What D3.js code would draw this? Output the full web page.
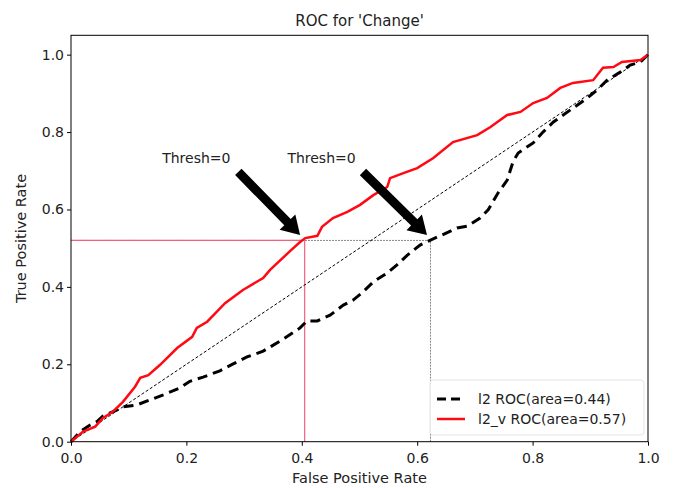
<!DOCTYPE html>
<html>
<head>
<meta charset="utf-8">
<script src="https://cdn.jsdelivr.net/npm/d3@7"></script>
<style>
  body { margin: 0; background: #fff; }
  text { font-family: "DejaVu Sans", sans-serif; fill: #222; }
</style>
</head>
<body>
<script>
// l2 ROC curve (black dashed)
var l2Fpr = [0, 0.016, 0.033, 0.045, 0.055, 0.080, 0.090, 0.114, 0.137, 0.160, 0.189, 0.206, 0.229, 0.258, 0.281, 0.305, 0.333, 0.368, 0.397, 0.409, 0.427, 0.449, 0.472, 0.489, 0.506, 0.524, 0.548, 0.565, 0.583, 0.605, 0.623, 0.640, 0.669, 0.687, 0.709, 0.723, 0.739, 0.756, 0.766, 0.775, 0.801, 0.818, 0.836, 0.853, 0.870, 0.895, 0.912, 0.929, 0.952, 0.969, 0.987, 1]
var l2Tpr = [0, 0.026, 0.043, 0.052, 0.066, 0.082, 0.090, 0.095, 0.108, 0.121, 0.139, 0.156, 0.167, 0.183, 0.201, 0.219, 0.234, 0.265, 0.294, 0.312, 0.312, 0.327, 0.353, 0.366, 0.387, 0.413, 0.436, 0.457, 0.482, 0.508, 0.521, 0.532, 0.552, 0.557, 0.578, 0.599, 0.640, 0.676, 0.723, 0.746, 0.772, 0.800, 0.826, 0.844, 0.862, 0.888, 0.909, 0.934, 0.955, 0.973, 0.981, 1]

// l2_v ROC curve (red)
var l2vFpr = [0, 0.021, 0.042, 0.055, 0.073, 0.090, 0.111, 0.120, 0.134, 0.154, 0.184, 0.210, 0.218, 0.236, 0.267, 0.298, 0.333, 0.345, 0.380, 0.397, 0.406, 0.427, 0.435, 0.454, 0.479, 0.501, 0.524, 0.548, 0.553, 0.576, 0.600, 0.628, 0.662, 0.704, 0.727, 0.756, 0.779, 0.801, 0.825, 0.848, 0.870, 0.905, 0.922, 0.940, 0.955, 0.987, 1]
var l2vTpr = [0, 0.026, 0.039, 0.061, 0.078, 0.103, 0.142, 0.165, 0.172, 0.198, 0.242, 0.271, 0.294, 0.310, 0.358, 0.392, 0.423, 0.444, 0.493, 0.516, 0.526, 0.532, 0.555, 0.578, 0.594, 0.612, 0.637, 0.658, 0.681, 0.694, 0.707, 0.733, 0.774, 0.792, 0.813, 0.844, 0.852, 0.875, 0.888, 0.914, 0.927, 0.934, 0.966, 0.968, 0.981, 0.986, 1]

var ticks = [0, 0.2, 0.4, 0.6, 0.8, 1.0]
var labels = ["l2 ROC(area=0.44)", "l2_v ROC(area=0.57)"]

// threshold points marked on each curve
var threshX = [0.405, 0.623]
var threshY = 0.52

var svg = d3.select("body")
  .append("svg")
  .attr("width", 674)
  .attr("height", 488)

var xScale = d3.scaleLinear()
  .domain([0, 1])
  .range([71, 648])

var yScale = d3.scaleLinear()
  .domain([0, 1.05])
  .range([441.7, 35.3])

// reference lines at threshold
svg.append("line")
  .attr("x1", xScale(0)).attr("x2", xScale(threshX[1]))
  .attr("y1", yScale(threshY)).attr("y2", yScale(threshY))
  .attr("stroke", "#888").attr("stroke-width", 1).attr("stroke-dasharray", "2,1")
svg.append("line")
  .attr("x1", xScale(threshX[1])).attr("x2", xScale(threshX[1]))
  .attr("y1", yScale(0)).attr("y2", yScale(threshY))
  .attr("stroke", "#888").attr("stroke-width", 1).attr("stroke-dasharray", "2,1")
svg.append("line")
  .attr("x1", xScale(0)).attr("x2", xScale(threshX[0]))
  .attr("y1", yScale(threshY)).attr("y2", yScale(threshY))
  .attr("stroke", "#f06080").attr("stroke-width", 1.2)
svg.append("line")
  .attr("x1", xScale(threshX[0])).attr("x2", xScale(threshX[0]))
  .attr("y1", yScale(0)).attr("y2", yScale(threshY))
  .attr("stroke", "#f06080").attr("stroke-width", 1.2)

// diagonal
svg.append("line")
  .attr("x1", xScale(0)).attr("y1", yScale(0))
  .attr("x2", xScale(1)).attr("y2", yScale(1))
  .attr("stroke", "#000").attr("stroke-width", 1).attr("stroke-dasharray", "3,2")

var line = d3.line()
  .x(function(d){ return xScale(d[0]) })
  .y(function(d){ return yScale(d[1]) })

svg.append("path")
  .datum(d3.zip(l2Fpr, l2Tpr))
  .attr("d", line)
  .attr("fill", "none")
  .attr("stroke", "#000")
  .attr("stroke-width", 3)
  .attr("stroke-dasharray", "10,6")

svg.append("path")
  .datum(d3.zip(l2vFpr, l2vTpr))
  .attr("d", line)
  .attr("fill", "none")
  .attr("stroke", "#ff0a14")
  .attr("stroke-width", 2.5)

// annotations: arrows + text
var notes = [
  {tx: 0.158, ty: 0.72, x0: 0.290, y0: 0.697, x1: 0.397, y1: 0.534},
  {tx: 0.375, ty: 0.72, x0: 0.506, y0: 0.697, x1: 0.617, y1: 0.534}
]
notes.forEach(function(n){
  var ax = xScale(n.x0), ay = yScale(n.y0), bx = xScale(n.x1), by = yScale(n.y1)
  var dx = bx - ax, dy = by - ay, len = Math.sqrt(dx*dx + dy*dy)
  var ux = dx/len, uy = dy/len, px = -uy, py = ux
  var sw = 4.5, hw = 11, hl = 18
  var hx = bx - ux*hl, hy = by - uy*hl
  var pts = [
    [ax + px*sw, ay + py*sw],
    [hx + px*sw, hy + py*sw],
    [hx + px*hw, hy + py*hw],
    [bx, by],
    [hx - px*hw, hy - py*hw],
    [hx - px*sw, hy - py*sw],
    [ax - px*sw, ay - py*sw]
  ]
  svg.append("polygon")
    .attr("points", pts.map(function(p){ return p.join(",") }).join(" "))
    .attr("fill", "#000")
  svg.append("text").text("Thresh=0")
    .attr("x", xScale(n.tx)).attr("y", yScale(n.ty))
    .style("font-size", "14px")
})

// frame
svg.append("rect")
  .attr("x", 71).attr("y", 35.3)
  .attr("width", 577).attr("height", 406.4)
  .attr("fill", "none").attr("stroke", "#000").attr("stroke-width", 1)

var xAxis = d3.axisBottom(xScale).tickValues(ticks).tickFormat(d3.format(".1f")).tickSize(4).tickSizeOuter(0)
var yAxis = d3.axisLeft(yScale).tickValues(ticks).tickFormat(d3.format(".1f")).tickSize(4).tickSizeOuter(0)

var gx = svg.append("g").attr("transform", "translate(0,441.7)").call(xAxis)
var gy = svg.append("g").attr("transform", "translate(71,0)").call(yAxis)
gx.select(".domain").remove()
gy.select(".domain").remove()
svg.selectAll(".tick text").style("font-size", "14px").style("font-family", "DejaVu Sans").attr("fill", "#222")
gx.selectAll(".tick text").attr("dy", "1.0em")

svg.append("text").text("ROC for 'Change'")
  .attr("x", 359.5).attr("y", 26)
  .attr("text-anchor", "middle").style("font-size", "15px")

svg.append("text").text("False Positive Rate")
  .attr("x", 359.5).attr("y", 483)
  .attr("text-anchor", "middle").style("font-size", "14.5px")

svg.append("text").text("True Positive Rate")
  .attr("transform", "translate(26,238.5) rotate(-90)")
  .attr("text-anchor", "middle").style("font-size", "14.5px")

// legend
var lg = svg.append("g").attr("transform", "translate(430,380)")
lg.append("rect")
  .attr("x", 0).attr("y", 0).attr("width", 214).attr("height", 55)
  .attr("rx", 3).attr("fill", "#fff").attr("fill-opacity", 0.8)
  .attr("stroke", "#e4e4e4")
var styles = [
  {stroke: "#000", w: 3, dash: "9,5"},
  {stroke: "#ff0a14", w: 2.5, dash: null}
]
labels.forEach(function(t, i){
  var y = 19 + i*20
  lg.append("line")
    .attr("x1", 7).attr("x2", 35).attr("y1", y).attr("y2", y)
    .attr("stroke", styles[i].stroke).attr("stroke-width", styles[i].w)
    .attr("stroke-dasharray", styles[i].dash)
  lg.append("text").text(t)
    .attr("x", 48).attr("y", y + 5)
    .style("font-size", "14px")
})
</script>
</body>
</html>
